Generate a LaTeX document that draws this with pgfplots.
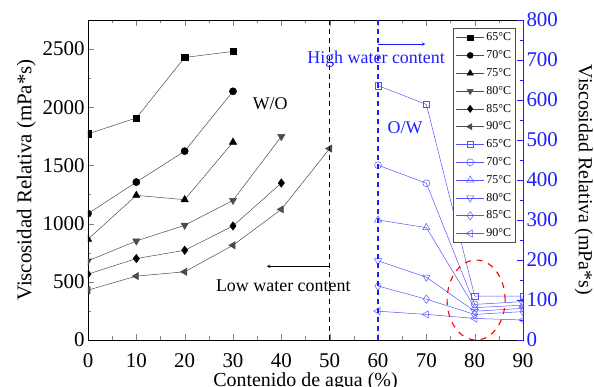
\documentclass[border=0pt]{standalone}
\usepackage{fontspec}
\setmainfont{Liberation Serif}
\usepackage{pgfplots}
\pgfplotsset{compat=1.18}
\definecolor{sblue}{RGB}{85,85,255}
\definecolor{ablue}{RGB}{30,30,255}
\begin{document}
\begin{tikzpicture}
\useasboundingbox (-88bp,-47bp) rectangle (506bp,340bp);
\pgfplotsset{
  common/.style={
    scale only axis, width=435bp, height=320bp,
    xmin=0, xmax=90,
    tick align=inside,
    major tick length=6bp, minor tick length=3.5bp,
    /pgf/number format/assume math mode=true,
    /pgf/number format/1000 sep={},
    clip marker paths=true,
    every axis plot/.append style={line width=0.5pt},
    legend image code/.code={\draw[mark repeat=2,mark phase=2] plot coordinates {(0bp,0bp) (14bp,0bp) (28bp,0bp)};},
  },
  bk/.style={black!70, mark options={solid, black, fill=black}},
  bl/.style={sblue, mark options={solid, sblue, fill=white}},
}
\begin{axis}[common,
  ymin=0, ymax=2750,
  xtick={0,10,...,90}, minor x tick num=1,
  ytick={0,500,...,2500}, minor y tick num=1,
  ytick pos=left, xtick pos=both,
  axis line style={line width=0.8pt},
  tick label style={font=\fontsize{21}{24}\selectfont},
  every x tick label/.append style={anchor=base, yshift=-27bp},
  xlabel={Contenido de agua (\%)}, ylabel={Viscosidad Relativa (mPa*s)},
  xlabel style={font=\fontsize{20}{24}\selectfont, at={(axis description cs:0.5,0)}, anchor=base, yshift=-46bp},
  ylabel style={font=\fontsize{21}{24}\selectfont},
]
\addplot[bk, mark=square*, mark size=3.2pt] coordinates {(0,1771)(10,1908)(20,2428)(30,2480)};
\addplot[bk, mark=*, mark size=3.6pt] coordinates {(0,1086)(10,1357)(20,1623)(30,2137)};
\addplot[bk, mark=triangle*, mark size=4.2pt] coordinates {(0,866)(10,1243)(20,1206)(30,1700)};
\addplot[bk, mark=triangle*, mark options={rotate=180}, mark size=4.2pt] coordinates {(0,680)(10,851)(20,986)(30,1200)(40,1749)};
\addplot[bk, mark=diamond*, mark size=4.2pt] coordinates {(0,566)(10,700)(20,771)(30,980)(40,1349)};
\addplot[bk, mark=triangle*, mark options={rotate=90}, mark size=4.2pt] coordinates {(0,429)(10,549)(20,586)(30,814)(40,1123)(50,1645)};
\draw[black, line width=1.1pt, dash pattern=on 5bp off 4bp] (axis cs:50,0) -- (axis cs:50,2750);
\draw[-stealth, black, line width=0.6pt] (axis cs:50,634) -- (axis cs:37,634);
\node[font=\fontsize{18}{20}\selectfont] at (axis cs:40.4,463) {Low water content};
\node[font=\fontsize{18}{20}\selectfont] at (axis cs:37.7,2031) {W/O};
\end{axis}
\begin{axis}[common,
  ymin=0, ymax=800,
  axis x line=none, axis y line*=right,
  ytick={0,100,...,800}, minor y tick num=1,
  y axis line style={ablue, line width=1pt, -},
  ytick style={ablue, line width=0.8pt},
  minor y tick style={ablue},
  yticklabel style={ablue, font=\fontsize{21}{24}\selectfont},
  ylabel={Viscosidad Relativa (mPa*s)},
  ylabel style={font=\fontsize{20}{24}\selectfont, rotate=180, black, yshift=10bp},
  legend cell align=left,
  legend style={at={(0.984,0.975)}, anchor=north east, draw=black!70, line width=0.8pt,
    font=\fontsize{12}{13}\selectfont, row sep=4.4pt, inner sep=2.5pt},
]
\addlegendimage{bk, mark=square*, mark size=2.8pt}
\addlegendimage{bk, mark=*, mark size=3pt}
\addlegendimage{bk, mark=triangle*, mark size=3.6pt}
\addlegendimage{bk, mark=triangle*, mark options={rotate=180}, mark size=3.6pt}
\addlegendimage{bk, mark=diamond*, mark size=3.6pt}
\addlegendimage{bk, mark=triangle*, mark options={rotate=90}, mark size=3.6pt}
\addplot[bl, mark=square, mark size=3.2pt] coordinates {(60,636)(70,589)(80,110)(90,110)};
\addplot[bl, mark=o, mark size=3.5pt] coordinates {(60,437)(70,392)(80,89)(90,96)};
\addplot[bl, mark=triangle, mark size=4.2pt] coordinates {(60,300)(70,281)(80,81)(90,87)};
\addplot[bl, mark=triangle, mark options={rotate=180}, mark size=4.2pt] coordinates {(60,198)(70,157)(80,72)(90,79)};
\addplot[bl, mark=diamond, mark size=4.2pt] coordinates {(60,135)(70,102)(80,64)(90,71)};
\addplot[bl, mark=triangle, mark options={rotate=90}, mark size=4.2pt] coordinates {(60,72)(70,64)(80,54)(90,50)};
\legend{65°C,70°C,75°C,80°C,85°C,90°C,65°C,70°C,75°C,80°C,85°C,90°C}
\draw[ablue, line width=1.1pt, dash pattern=on 5bp off 4bp] (axis cs:60,0) -- (axis cs:60,800);
\draw[-stealth, ablue, line width=0.6pt] (axis cs:60,740) -- (axis cs:69.8,740);
\node[ablue, font=\fontsize{18}{20}\selectfont] at (axis cs:59.6,702) {High water content};
\node[ablue, font=\fontsize{18}{20}\selectfont] at (axis cs:65.6,530) {O/W};
\draw[red, line width=1.1pt, dash pattern=on 6bp off 6bp] (axis cs:80.3,100) ellipse [x radius=29bp, y radius=40bp];
\end{axis}
\end{tikzpicture}
\end{document}
